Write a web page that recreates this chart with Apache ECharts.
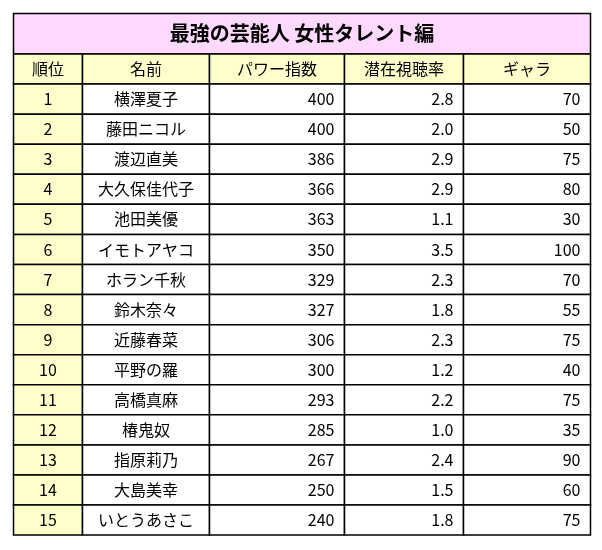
<!DOCTYPE html>
<html><head><meta charset="utf-8">
<script src="https://cdn.jsdelivr.net/npm/echarts@6/dist/echarts.min.js"></script>
<style>html,body{margin:0;background:#fff}#c{width:602px;height:550px}</style>
</head><body><div id="c"></div>
<script>
var chart = echarts.init(document.getElementById('c'));
var title = '最強の芸能人 女性タレント編';
var headers = ['順位', '名前', 'パワー指数', '潜在視聴率', 'ギャラ'];
var names = ['横澤夏子','藤田ニコル','渡辺直美','大久保佳代子','池田美優','イモトアヤコ','ホラン千秋','鈴木奈々','近藤春菜','平野の羅','高橋真麻','椿鬼奴','指原莉乃','大島美幸','いとうあさこ'];
var power = [400,400,386,366,363,350,329,327,306,300,293,285,267,250,240];
var rating = ['2.8','2.0','2.9','2.9','1.1','3.5','2.3','1.8','2.3','1.2','2.2','1.0','2.4','1.5','1.8'];
var fee = [70,50,75,80,30,100,70,55,75,40,75,35,90,60,75];

// レイアウト
var colX = [13.5, 82.5, 209.5, 344.5, 463.5, 590.5];
var top0 = 13.5, titleH = 40.5, rowH = 30.07;
var font = '"Noto Sans CJK JP", sans-serif';
var els = [];
function cell(x0, x1, y, h, fill, text, align, size, bold) {
  els.push({ type: 'rect', shape: { x: x0, y: y, width: x1 - x0, height: h },
    style: { fill: fill, stroke: '#000', lineWidth: 1.5 } });
  var tx = align === 'right' ? x1 - 10 : (x0 + x1) / 2;
  els.push({ type: 'text', x: tx, y: y + h / 2,
    style: { text: text, fill: '#000', font: (bold ? 'bold ' : '') + size + 'px ' + font,
      textAlign: align, textVerticalAlign: 'middle' } });
}
cell(colX[0], colX[5], top0, titleH, '#ffd9ff', title, 'center', 20, true);
var y = top0 + titleH;
headers.forEach(function (h, i) { cell(colX[i], colX[i + 1], y, rowH, '#ffffcc', h, 'center', 16); });
names.forEach(function (n, r) {
  var yy = y + rowH * (r + 1);
  var vals = [String(r + 1), n, String(power[r]), rating[r], String(fee[r])];
  vals.forEach(function (v, i) {
    cell(colX[i], colX[i + 1], yy, rowH, i === 0 ? '#ffffcc' : '#fff', v, i < 2 ? 'center' : 'right', 16);
  });
});
chart.setOption({ backgroundColor: '#fff', graphic: els });
</script></body></html>
